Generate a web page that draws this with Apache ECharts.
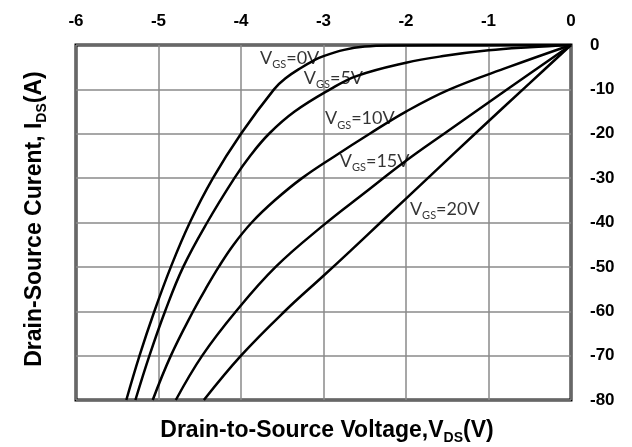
<!DOCTYPE html>
<html><head><meta charset="utf-8">
<script src="https://cdn.jsdelivr.net/npm/echarts@6/dist/echarts.min.js"></script>
<style>html,body{margin:0;padding:0;background:#fff}#c{width:632px;height:447px}</style>
</head><body><div id="c"></div>
<script>
// Axis ranges / ticks
const xMin = -6, xMax = 0, xStep = 1;
const yMin = -80, yMax = 0, yStep = 10;

// Curve labels (V_GS values)
const vgsNames = ['0V', '5V', '10V', '15V', '20V'];

// Drain current I_DS (A) vs V_DS (V)
const curve0V  = [[-5.39,-80],[-5.23,-70],[-5.05,-60],[-4.85,-50],[-4.62,-40],[-4.34,-30],[-4.0,-20],[-3.6,-10],[-3.46,-7.5],[-3.26,-5],[-3.12,-3.5],[-3.0,-2.5],[-2.75,-1.1],[-2.5,-0.35],[-2.2,-0.1],[-1.0,-0.03],[0,0]];
const curve5V  = [[-5.28,-80],[-5.11,-70],[-4.92,-60],[-4.70,-50],[-4.41,-40],[-4.08,-30],[-3.89,-25],[-3.66,-20],[-3.35,-15],[-2.92,-10],[-2.6,-7],[-2.0,-4],[-1.55,-2.5],[-1.0,-1.2],[-0.5,-0.5],[0,0]];
const curve10V = [[-5.07,-80],[-4.85,-70],[-4.58,-60],[-4.43,-55],[-4.27,-50],[-4.09,-45],[-3.87,-40],[-3.59,-35],[-3.26,-30],[-2.86,-25],[-2.44,-20],[-2.0,-15],[-1.47,-10],[-0.76,-5],[0,0]];
const curve15V = [[-4.79,-80],[-4.47,-70],[-4.06,-60],[-3.58,-50],[-3.0,-40.6],[-2.5,-33.3],[-2.0,-26.1],[-1.5,-19.5],[-0.75,-9.7],[0,0]];
const curve20V = [[-4.45,-80],[-4.0,-70],[-3.47,-60],[-3.0,-52],[-2.68,-46.5],[-2.28,-39.5],[-1.7,-29.4],[-1.14,-19.6],[-0.5,-8.6],[0,0]];
const curves = [curve0V, curve5V, curve10V, curve15V, curve20V];

// Label anchors (data units) for the V_GS annotations
const labelAnchors = [[-3.41,-3.0],[-2.88,-7.4],[-2.56,-16.6],[-2.38,-26.2],[-1.53,-37.0]];

const chart = echarts.init(document.getElementById('c'), null, {renderer: 'canvas'});

const tickFont = {fontSize: 17, fontWeight: 'bold', fontFamily: 'Liberation Sans', color: '#000'};
const series = curves.map((c, i) => ({
  type: 'line', name: 'VGS=' + vgsNames[i], data: c, smooth: 0.4,
  showSymbol: false, silent: true,
  lineStyle: {color: '#000', width: 2.5}
}));
series.push({
  type: 'scatter', symbolSize: 0, silent: true,
  data: labelAnchors.map((p, i) => ({value: p, name: vgsNames[i]})),
  label: {
    show: true, position: 'inside', align: 'center', verticalAlign: 'middle',
    formatter: p => '{m|V}{s|GS}{m|=' + p.name + '}',
    rich: {
      m: {fontFamily: 'Lato', fontSize: 18, color: '#000', lineHeight: 24, verticalAlign: 'middle'},
      s: {fontFamily: 'Lato', fontSize: 11, color: '#000', lineHeight: 11, verticalAlign: 'bottom'}
    }
  }
});

const titleRich = {
  a: {fontFamily: 'Liberation Sans', fontWeight: 'bold', fontSize: 23, color: '#000', lineHeight: 28, verticalAlign: 'middle'},
  b: {fontFamily: 'Liberation Sans', fontWeight: 'bold', fontSize: 14, color: '#000', lineHeight: 14, verticalAlign: 'bottom'}
};

chart.setOption({
  animation: false,
  backgroundColor: '#fff',
  grid: {left: 76, right: 61, top: 45, bottom: 47, show: true, borderColor: '#000', borderWidth: 3, backgroundColor: 'transparent'},
  xAxis: {
    type: 'value', position: 'top', min: xMin, max: xMax, interval: xStep,
    axisLine: {show: false}, axisTick: {show: false},
    splitLine: {show: true, lineStyle: {color: '#8a8a8a', width: 1.5}},
    axisLabel: Object.assign({margin: 15}, tickFont)
  },
  yAxis: {
    type: 'value', position: 'right', min: yMin, max: yMax, interval: yStep,
    axisLine: {show: false}, axisTick: {show: false},
    splitLine: {show: true, lineStyle: {color: '#8a8a8a', width: 1.5}},
    axisLabel: Object.assign({margin: 19}, tickFont)
  },
  series: series,
  graphic: [
    {
      type: 'text', x: 327, y: 431,
      style: {text: '{a|Drain-to-Source Voltage,V}{b|DS}{a|(V)}', align: 'center', verticalAlign: 'middle', rich: titleRich}
    },
    {
      type: 'text', x: 35, y: 219, rotation: Math.PI / 2,
      style: {text: '{a|Drain-Source Curent, I}{b|DS}{a|(A)}', align: 'center', verticalAlign: 'middle', rich: titleRich}
    }
  ]
});
</script>
</body></html>
